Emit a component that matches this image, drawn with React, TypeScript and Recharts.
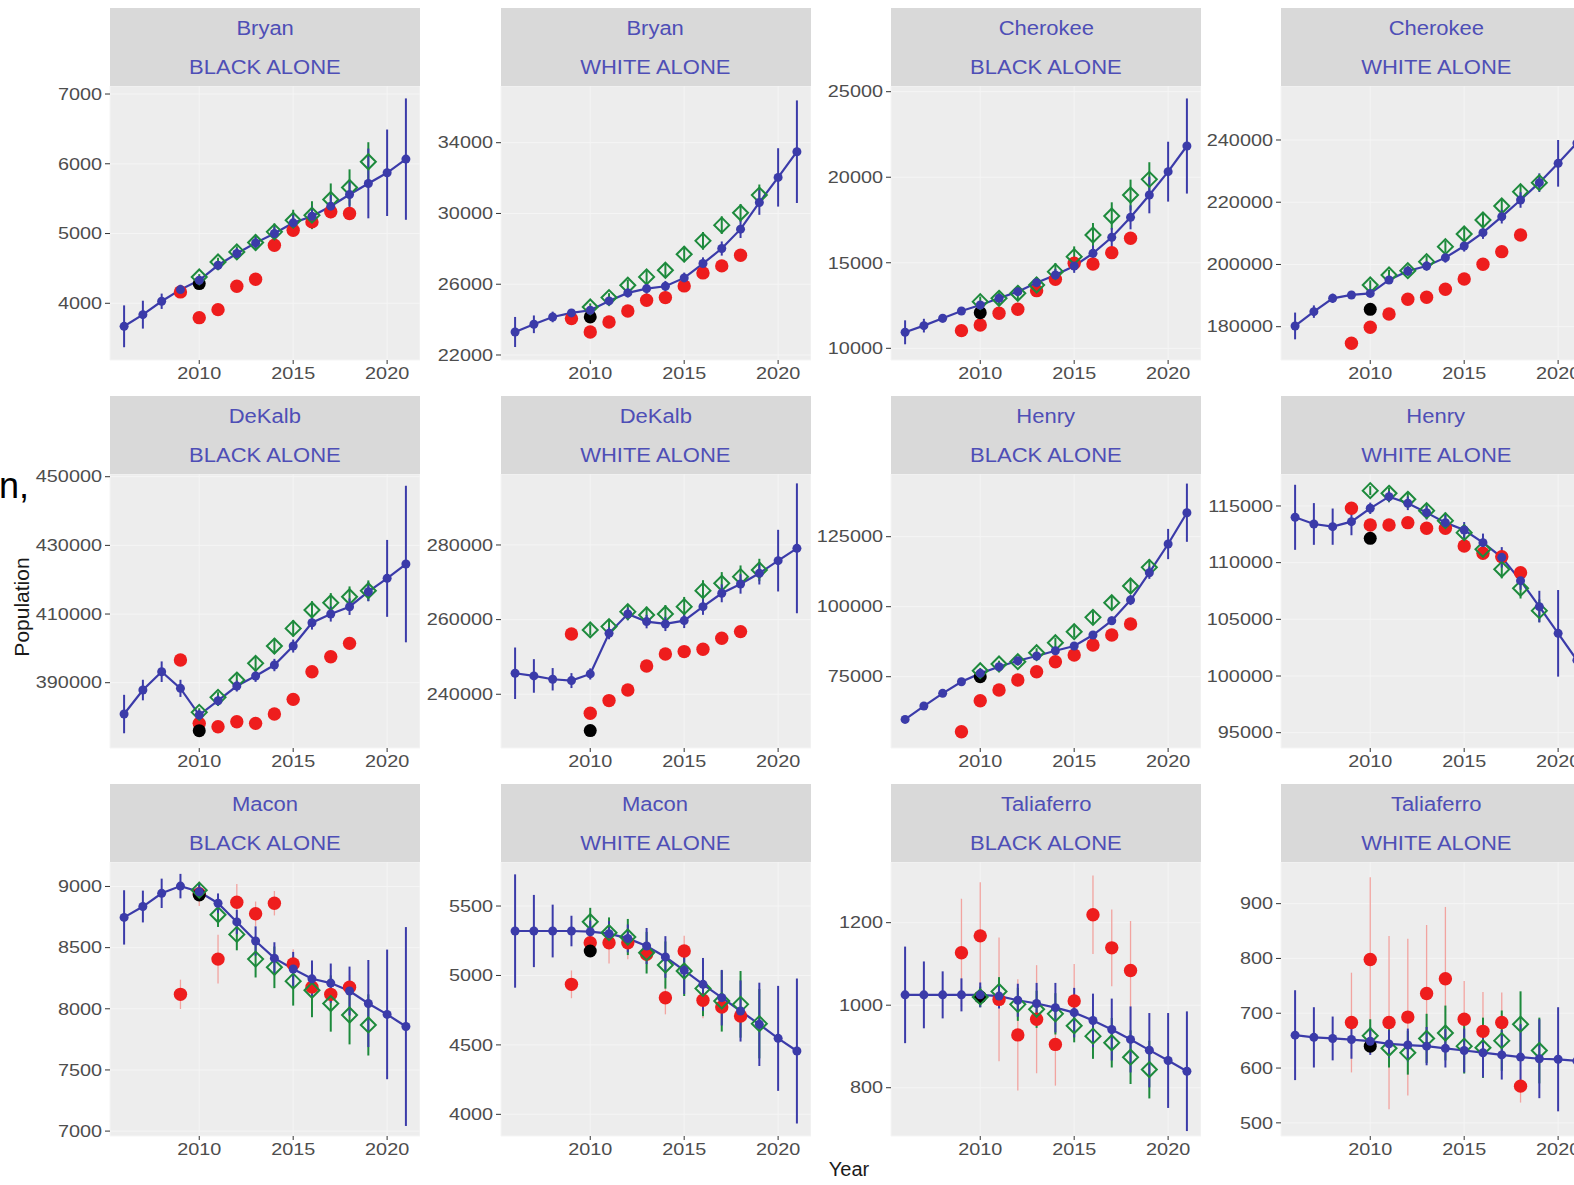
import React from 'react';
import { ComposedChart, Line, Scatter, XAxis, YAxis, CartesianGrid, ErrorBar } from 'recharts';

// years on the x axis
const years = [2006, 2007, 2008, 2009, 2010, 2011, 2012, 2013, 2014, 2015, 2016, 2017, 2018, 2019, 2020, 2021];
const vintageYears = [2010, 2011, 2012, 2013, 2014, 2015, 2016, 2017, 2018, 2019];
const acsYears = [2009, 2010, 2011, 2012, 2013, 2014, 2015, 2016, 2017, 2018];
const censusYear = 2010;
const yearTicks = [2010, 2015, 2020];

// Bryan, BLACK ALONE
const bryanBlackEst = [3670, 3837, 4029, 4196, 4330, 4545, 4713, 4866, 5000, 5153, 5249, 5392, 5560, 5718, 5871, 6067];
const bryanBlackEstMoe = [300, 200, 110, 70, 40, 60, 80, 100, 100, 120, 140, 160, 200, 500, 620, 870];
const bryanBlackVin = [4378, 4593, 4737, 4871, 5024, 5191, 5263, 5488, 5660, 6029];
const bryanBlackVinMoe = [40, 60, 80, 110, 120, 150, 200, 230, 260, 280];
const bryanBlackAcs = [4163, 3794, 3909, 4244, 4344, 4833, 5048, 5167, 5311, 5287];
const bryanBlackAcsMoe = [80, 60, 70, 80, 90, 80, 90, 100, 100, 90];
const bryanBlackCensus = 4282;
const bryanBlackTicks = [4000, 5000, 6000, 7000];

// Bryan, WHITE ALONE
const bryanWhiteEst = [23300, 23735, 24150, 24377, 24527, 25056, 25509, 25754, 25886, 26358, 27169, 28018, 29113, 30622, 32038, 33490];
const bryanWhiteEstMoe = [850, 500, 300, 200, 150, 200, 250, 300, 300, 300, 350, 400, 500, 700, 1650, 2900];
const bryanWhiteVin = [24716, 25245, 25943, 26414, 26792, 27697, 28452, 29340, 30037, 31037];
const bryanWhiteVinMoe = [200, 250, 300, 350, 400, 450, 500, 500, 500, 600];
const bryanWhiteAcs = [24056, 23300, 23866, 24490, 25093, 25245, 25905, 26640, 27037, 27640];
const bryanWhiteAcsMoe = [200, 200, 200, 200, 200, 200, 200, 200, 200, 200];
const bryanWhiteCensus = 24150;
const bryanWhiteTicks = [22000, 26000, 30000, 34000];

// Cherokee, BLACK ALONE
const cherokeeBlackEst = [10935, 11325, 11754, 12182, 12533, 12922, 13312, 13838, 14286, 14812, 15552, 16487, 17656, 18961, 20325, 21825];
const cherokeeBlackEstMoe = [700, 400, 250, 150, 150, 200, 250, 300, 350, 400, 450, 550, 700, 1070, 1750, 2780];
const cherokeeBlackVin = [12728, 12922, 13215, 13702, 14481, 15357, 16624, 17734, 18961, 19877];
const cherokeeBlackVinMoe = [300, 350, 400, 450, 500, 600, 700, 800, 900, 1000];
const cherokeeBlackAcs = [11033, 11364, 12046, 12280, 13370, 14033, 14968, 14929, 15591, 16429];
const cherokeeBlackAcsMoe = [250, 250, 250, 250, 250, 250, 250, 250, 250, 250];
const cherokeeBlackCensus = 12085;
const cherokeeBlackTicks = [10000, 15000, 20000, 25000];

// Cherokee, WHITE ALONE
const cherokeeWhiteEst = [180238, 184844, 189128, 190200, 190700, 195018, 197909, 199516, 202194, 205942, 210226, 215367, 220722, 226291, 232503, 239000];
const cherokeeWhiteEstMoe = [4300, 2000, 1500, 1200, 1000, 1200, 1400, 1500, 1600, 1800, 2000, 2200, 2500, 3000, 7500, 12000];
const cherokeeWhiteVin = [193412, 196626, 198018, 200910, 205730, 209800, 214296, 218794, 223400, 226291];
const cherokeeWhiteVinMoe = [1500, 1600, 1700, 1800, 1900, 2000, 2100, 2200, 2300, 2400];
const cherokeeWhiteAcs = [174669, 179810, 184094, 188806, 189449, 192019, 195339, 200052, 204122, 209476];
const cherokeeWhiteAcsMoe = [800, 800, 800, 800, 800, 800, 800, 800, 800, 800];
const cherokeeWhiteCensus = 185593;
const cherokeeWhiteTicks = [180000, 200000, 220000, 240000];

// DeKalb, BLACK ALONE
const dekalbBlackEst = [380872, 387862, 393202, 388348, 380580, 384756, 389028, 391940, 395144, 400678, 407474, 410000, 412135, 416504, 420388, 424562];
const dekalbBlackEstMoe = [5600, 3000, 3000, 2500, 1500, 1500, 1600, 1700, 1800, 1900, 2000, 2200, 2400, 2800, 11200, 22800];
const dekalbBlackVin = [381357, 385726, 390775, 395630, 400678, 405824, 411164, 413300, 415047, 416795];
const dekalbBlackVinMoe = [1200, 1500, 1700, 2000, 2200, 2400, 2600, 2800, 3000, 3000];
const dekalbBlackAcs = [396600, 378153, 377182, 378638, 378153, 380872, 385144, 393202, 397573, 401457];
const dekalbBlackAcsMoe = [1000, 1000, 1000, 1000, 1000, 1000, 1000, 1000, 1000, 1000];
const dekalbBlackCensus = 376017;
const dekalbBlackTicks = [390000, 410000, 430000, 450000];

// DeKalb, WHITE ALONE
const dekalbWhiteEst = [245625, 244910, 244017, 243660, 245446, 256340, 261517, 259464, 258839, 259732, 263482, 267053, 269553, 272410, 275803, 279107];
const dekalbWhiteEstMoe = [6900, 4500, 3000, 2000, 1500, 1600, 1700, 1800, 1900, 2000, 2200, 2400, 2600, 3000, 8260, 17400];
const dekalbWhiteVin = [257232, 258125, 262142, 261250, 261517, 263482, 267767, 269732, 271517, 273303];
const dekalbWhiteVinMoe = [1500, 1800, 2000, 2200, 2400, 2600, 2800, 3000, 3000, 3000];
const dekalbWhiteAcs = [256160, 234910, 238303, 241160, 247588, 250803, 251428, 252053, 255000, 256785];
const dekalbWhiteAcsMoe = [1000, 1000, 1000, 1000, 1000, 1000, 1000, 1000, 1000, 1000];
const dekalbWhiteCensus = 230267;
const dekalbWhiteTicks = [240000, 260000, 280000];

// Henry, BLACK ALONE
const henryBlackEst = [59762, 64524, 69048, 73214, 76190, 78571, 80714, 82381, 84286, 85952, 89881, 95000, 102381, 112143, 122381, 133571];
const henryBlackEstMoe = [1000, 1000, 900, 800, 800, 900, 1000, 1100, 1200, 1300, 1400, 1500, 1800, 2200, 5400, 10400];
const henryBlackVin = [77143, 79524, 80357, 83571, 87143, 91071, 96190, 101428, 107381, 114048];
const henryBlackVinMoe = [1000, 1200, 1400, 1600, 1800, 2000, 2200, 2400, 2600, 2800];
const henryBlackAcs = [55357, 66429, 70238, 73810, 76786, 80357, 82738, 86310, 89881, 93810];
const henryBlackAcsMoe = [1000, 1000, 1000, 1000, 1000, 1000, 1000, 1000, 1000, 1000];
const henryBlackCensus = 75000;
const henryBlackTicks = [75000, 100000, 125000];

// Henry, WHITE ALONE
const henryWhiteEst = [114000, 113412, 113176, 113618, 114794, 115823, 115235, 114412, 113529, 112882, 111765, 110471, 108412, 106118, 103765, 101400];
const henryWhiteEstMoe = [2870, 1840, 1600, 1200, 500, 500, 600, 600, 700, 700, 800, 900, 800, 1400, 3820, 6000];
const henryWhiteVin = [116353, 116118, 115588, 114588, 113706, 112647, 111176, 109412, 107735, 105765];
const henryWhiteVinMoe = [400, 500, 600, 600, 700, 700, 800, 800, 900, 1000];
const henryWhiteAcs = [114794, 113324, 113324, 113529, 113029, 113029, 111471, 110824, 110529, 109118];
const henryWhiteAcsMoe = [400, 400, 400, 400, 400, 400, 400, 400, 400, 400];
const henryWhiteCensus = 112147;
const henryWhiteTicks = [95000, 100000, 105000, 110000, 115000];

// Macon, BLACK ALONE
const maconBlackEst = [8747, 8836, 8944, 9003, 8957, 8863, 8710, 8554, 8414, 8325, 8245, 8210, 8145, 8043, 7954, 7855];
const maconBlackEstMoe = [222, 130, 120, 100, 60, 80, 100, 120, 130, 140, 150, 160, 200, 356, 530, 813];
const maconBlackVin = [8970, 8769, 8608, 8406, 8339, 8226, 8151, 8043, 7949, 7868];
const maconBlackVinMoe = [60, 100, 130, 150, 170, 200, 220, 230, 240, 250];
const maconBlackAcs = [8118, 8940, 8406, 8871, 8777, 8863, 8366, 8177, 8118, 8177];
const maconBlackAcsMoe = [120, 100, 200, 150, 100, 100, 120, 100, 100, 100];
const maconBlackCensus = 8930;
const maconBlackTicks = [7000, 7500, 8000, 8500, 9000];

// Macon, WHITE ALONE
const maconWhiteEst = [5320, 5320, 5320, 5320, 5315, 5301, 5267, 5212, 5133, 5037, 4936, 4840, 4744, 4648, 4547, 4456];
const maconWhiteEstMoe = [408, 260, 190, 110, 80, 90, 100, 130, 150, 170, 190, 200, 220, 300, 378, 522];
const maconWhiteVin = [5387, 5308, 5277, 5164, 5075, 5032, 4907, 4816, 4792, 4653];
const maconWhiteVinMoe = [100, 110, 130, 150, 170, 180, 200, 220, 240, 250];
const maconWhiteAcs = [4936, 5236, 5236, 5236, 5152, 4840, 5176, 4821, 4773, 4708];
const maconWhiteAcsMoe = [100, 100, 150, 120, 110, 120, 110, 130, 120, 120];
const maconWhiteCensus = 5176;
const maconWhiteTicks = [4000, 4500, 5000, 5500];

// Taliaferro, BLACK ALONE
const taliaferroBlackEst = [1025, 1025, 1025, 1025, 1025, 1022, 1012, 1004, 994, 982, 963, 941, 917, 891, 866, 840];
const taliaferroBlackEstMoe = [117, 81, 57, 40, 30, 30, 40, 50, 60, 60, 65, 75, 80, 90, 115, 145];
const taliaferroBlackVin = [1020, 1033, 1002, 990, 979, 950, 925, 909, 874, 844];
const taliaferroBlackVinMoe = [25, 35, 40, 45, 50, 40, 55, 60, 65, 70];
const taliaferroBlackAcs = [1127, 1168, 1014, 928, 966, 905, 1010, 1219, 1139, 1084];
const taliaferroBlackAcsMoe = [131, 130, 150, 135, 131, 100, 90, 95, 93, 120];
const taliaferroBlackCensus = 1020;
const taliaferroBlackTicks = [800, 1000, 1200];

// Taliaferro, WHITE ALONE
const taliaferroWhiteEst = [660, 656, 654, 652, 649, 644, 642, 640, 636, 632, 628, 624, 620, 617, 616, 613];
const taliaferroWhiteEstMoe = [82, 55, 40, 35, 25, 25, 30, 35, 35, 40, 45, 45, 60, 72, 95, 120];
const taliaferroWhiteVin = [659, 636, 628, 654, 664, 640, 637, 650, 680, 632];
const taliaferroWhiteVinMoe = [30, 35, 40, 45, 50, 50, 55, 55, 60, 60];
const taliaferroWhiteAcs = [683, 798, 683, 693, 736, 763, 689, 667, 683, 567];
const taliaferroWhiteAcsMoe = [91, 150, 158, 143, 125, 131, 70, 72, 55, 30];
const taliaferroWhiteCensus = 640;
const taliaferroWhiteTicks = [500, 600, 700, 800, 900];

const panels = [
  { county: 'Bryan', race: 'BLACK ALONE', est: bryanBlackEst, estMoe: bryanBlackEstMoe, vin: bryanBlackVin, vinMoe: bryanBlackVinMoe, acs: bryanBlackAcs, acsMoe: bryanBlackAcsMoe, census: bryanBlackCensus, ticks: bryanBlackTicks, domain: [3187, 7115] },
  { county: 'Bryan', race: 'WHITE ALONE', est: bryanWhiteEst, estMoe: bryanWhiteEstMoe, vin: bryanWhiteVin, vinMoe: bryanWhiteVinMoe, acs: bryanWhiteAcs, acsMoe: bryanWhiteAcsMoe, census: bryanWhiteCensus, ticks: bryanWhiteTicks, domain: [21717, 37205] },
  { county: 'Cherokee', race: 'BLACK ALONE', est: cherokeeBlackEst, estMoe: cherokeeBlackEstMoe, vin: cherokeeBlackVin, vinMoe: cherokeeBlackVinMoe, acs: cherokeeBlackAcs, acsMoe: cherokeeBlackAcsMoe, census: cherokeeBlackCensus, ticks: cherokeeBlackTicks, domain: [9316, 25333] },
  { county: 'Cherokee', race: 'WHITE ALONE', est: cherokeeWhiteEst, estMoe: cherokeeWhiteEstMoe, vin: cherokeeWhiteVin, vinMoe: cherokeeWhiteVinMoe, acs: cherokeeWhiteAcs, acsMoe: cherokeeWhiteAcsMoe, census: cherokeeWhiteCensus, ticks: cherokeeWhiteTicks, domain: [169300, 257350] },
  { county: 'DeKalb', race: 'BLACK ALONE', est: dekalbBlackEst, estMoe: dekalbBlackEstMoe, vin: dekalbBlackVin, vinMoe: dekalbBlackVinMoe, acs: dekalbBlackAcs, acsMoe: dekalbBlackAcsMoe, census: dekalbBlackCensus, ticks: dekalbBlackTicks, domain: [370980, 450790] },
  { county: 'DeKalb', race: 'WHITE ALONE', est: dekalbWhiteEst, estMoe: dekalbWhiteEstMoe, vin: dekalbWhiteVin, vinMoe: dekalbWhiteVinMoe, acs: dekalbWhiteAcs, acsMoe: dekalbWhiteAcsMoe, census: dekalbWhiteCensus, ticks: dekalbWhiteTicks, domain: [225600, 299020] },
  { county: 'Henry', race: 'BLACK ALONE', est: henryBlackEst, estMoe: henryBlackEstMoe, vin: henryBlackVin, vinMoe: henryBlackVinMoe, acs: henryBlackAcs, acsMoe: henryBlackAcsMoe, census: henryBlackCensus, ticks: henryBlackTicks, domain: [49540, 147390] },
  { county: 'Henry', race: 'WHITE ALONE', est: henryWhiteEst, estMoe: henryWhiteEstMoe, vin: henryWhiteVin, vinMoe: henryWhiteVinMoe, acs: henryWhiteAcs, acsMoe: henryWhiteAcsMoe, census: henryWhiteCensus, ticks: henryWhiteTicks, domain: [93650, 117820] },
  { county: 'Macon', race: 'BLACK ALONE', est: maconBlackEst, estMoe: maconBlackEstMoe, vin: maconBlackVin, vinMoe: maconBlackVinMoe, acs: maconBlackAcs, acsMoe: maconBlackAcsMoe, census: maconBlackCensus, ticks: maconBlackTicks, domain: [6960, 9200] },
  { county: 'Macon', race: 'WHITE ALONE', est: maconWhiteEst, estMoe: maconWhiteEstMoe, vin: maconWhiteVin, vinMoe: maconWhiteVinMoe, acs: maconWhiteAcs, acsMoe: maconWhiteAcsMoe, census: maconWhiteCensus, ticks: maconWhiteTicks, domain: [3844, 5817] },
  { county: 'Taliaferro', race: 'BLACK ALONE', est: taliaferroBlackEst, estMoe: taliaferroBlackEstMoe, vin: taliaferroBlackVin, vinMoe: taliaferroBlackVinMoe, acs: taliaferroBlackAcs, acsMoe: taliaferroBlackAcsMoe, census: taliaferroBlackCensus, ticks: taliaferroBlackTicks, domain: [683, 1347] },
  { county: 'Taliaferro', race: 'WHITE ALONE', est: taliaferroWhiteEst, estMoe: taliaferroWhiteEstMoe, vin: taliaferroWhiteVin, vinMoe: taliaferroWhiteVinMoe, acs: taliaferroWhiteAcs, acsMoe: taliaferroWhiteAcsMoe, census: taliaferroWhiteCensus, ticks: taliaferroWhiteTicks, domain: [476, 976] },
];

const FONT = '"Liberation Sans", Arial, Helvetica, sans-serif';
const BLUE = '#3b3ba9';
const GREEN = '#1d8a3c';
const RED = '#ee1d1d';
const PINK = '#f2a4a0';

// layout of the facet grid
const COL_LEFT = [110, 500.5, 891, 1281];
const ROW_TOP = [86.4, 474, 861.6];
const PLOT_W = 310;
const PLOT_H = 274;
const STRIP_H = 78;
const Y_W = 80;
const X_H = 34;
const PAD_T = 12; // room for a tick label sitting on the panel's top edge

const YTick = ({ x, y, payload }: any) => (
  <g transform={`translate(${x},${y})`}>
    <text transform="scale(1.24,1)" textAnchor="end" dy="0.36em" fill="#4d4d4d" fontSize={16} fontFamily={FONT}>
      {payload.value}
    </text>
  </g>
);

const XTick = ({ x, y, payload }: any) => (
  <g transform={`translate(${x},${y})`}>
    <text transform="scale(1.24,1)" textAnchor="middle" dy="0.75em" fill="#4d4d4d" fontSize={16} fontFamily={FONT}>
      {payload.value}
    </text>
  </g>
);

const Diamond = ({ cx, cy }: any) => {
  if (cx == null || cy == null) return null;
  const s = 7.5;
  return <path d={`M${cx},${cy - s}L${cx + s},${cy}L${cx},${cy + s}L${cx - s},${cy}Z`} fill="none" stroke={GREEN} strokeWidth={2} />;
};

const RedDot = ({ cx, cy }: any) => (cx == null ? null : <circle cx={cx} cy={cy} r={6.7} fill={RED} />);
const BlackDot = ({ cx, cy }: any) => (cx == null ? null : <circle cx={cx} cy={cy} r={6.5} fill="#000" />);

const Strip = ({ left, top, county, race }: any) => {
  const line = { height: STRIP_H / 2, lineHeight: `${STRIP_H / 2}px`, textAlign: 'center' as const };
  const txt = { display: 'inline-block', transform: 'scaleX(1.1)' };
  return (
    <div style={{ position: 'absolute', left, top, width: PLOT_W, height: STRIP_H, background: '#d9d9d9', color: '#4e4eb6', fontSize: 20, fontFamily: FONT }}>
      <div style={{ ...line, paddingTop: 1 }}><span style={txt}>{county}</span></div>
      <div style={line}><span style={txt}>{race}</span></div>
    </div>
  );
};

const Panel = ({ p, col, row }: any) => {
  const left = COL_LEFT[col];
  const top = ROW_TOP[row];
  const estData = years.map((year, i) => ({ year, v: p.est[i], e: p.estMoe[i] }));
  const vinData = vintageYears.map((year, i) => ({ year, v: p.vin[i], e: p.vinMoe[i] }));
  const acsData = acsYears.map((year, i) => ({ year, v: p.acs[i], e: p.acsMoe[i] }));
  const censusData = [{ year: censusYear, v: p.census }];

  return (
    <>
      <div style={{ position: 'absolute', left: left - Y_W, top: top - PAD_T }}>
        <ComposedChart width={Y_W + PLOT_W} height={PAD_T + PLOT_H + X_H} margin={{ top: PAD_T, right: 0, bottom: 0, left: 0 }}>
          <CartesianGrid fill="#ededed" fillOpacity={1} stroke="#f5f5f5" strokeWidth={1} />
          <XAxis type="number" dataKey="year" domain={[2005.25, 2021.75]} ticks={yearTicks} allowDataOverflow interval={0}
            axisLine={false} tickLine={{ stroke: '#333' }} tickSize={4} tickMargin={3} height={X_H} tick={<XTick />} />
          <YAxis type="number" dataKey="v" domain={p.domain} ticks={p.ticks} allowDataOverflow interval={0}
            axisLine={false} tickLine={{ stroke: '#333' }} tickSize={5} tickMargin={3} width={Y_W} tick={<YTick />} />
          <Scatter data={acsData} dataKey="v" shape={<RedDot />} isAnimationActive={false}>
            <ErrorBar dataKey="e" direction="y" width={0} stroke={PINK} strokeWidth={1.3} />
          </Scatter>
          <Scatter data={censusData} dataKey="v" shape={<BlackDot />} isAnimationActive={false} />
          <Scatter data={vinData} dataKey="v" shape={<Diamond />} isAnimationActive={false}>
            <ErrorBar dataKey="e" direction="y" width={0} stroke={GREEN} strokeWidth={2} />
          </Scatter>
          <Line data={estData} dataKey="v" stroke={BLUE} strokeWidth={2.2} isAnimationActive={false}
            dot={{ r: 4.5, fill: BLUE, stroke: BLUE, strokeWidth: 0 }}>
            <ErrorBar dataKey="e" direction="y" width={0} stroke={BLUE} strokeWidth={2} />
          </Line>
        </ComposedChart>
      </div>
      <Strip left={left} top={top - STRIP_H} county={p.county} race={p.race} />
    </>
  );
};

export default function App() {
  return (
    <div style={{ position: 'absolute', left: 0, top: 0, width: 1574, height: 1185, overflow: 'hidden', background: '#fff' }}>
      {panels.map((p, i) => (
        <Panel key={i} p={p} col={i % 4} row={Math.floor(i / 4)} />
      ))}
      <svg width={1574} height={1185} style={{ position: 'absolute', left: 0, top: 0, pointerEvents: 'none' }}>
        <text x={-1} y={498} fontSize={36} fontFamily={FONT} fill="#000">n,</text>
        <text transform="translate(29,607) rotate(-90)" textAnchor="middle" fontSize={21} fontFamily={FONT} fill="#1a1a1a">Population</text>
        <text x={849} y={1176} textAnchor="middle" fontSize={20} fontFamily={FONT} fill="#1a1a1a">Year</text>
      </svg>
    </div>
  );
}
